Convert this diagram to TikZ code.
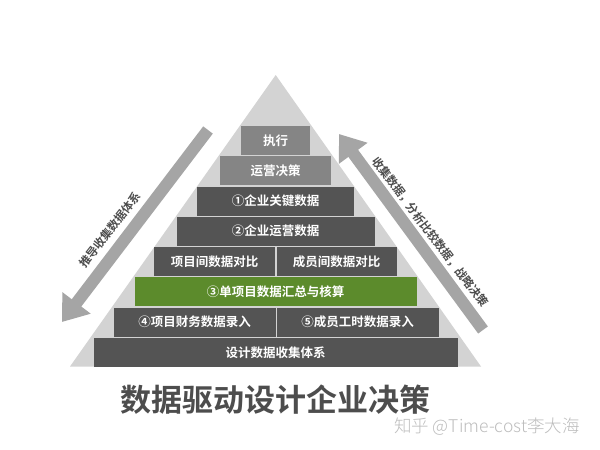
\documentclass[tikz,border=0pt]{standalone}
\usepackage{fontspec}
\setmainfont{Noto Sans CJK SC}
\newfontfamily\cjkb{Noto Sans CJK SC Bold}
\newfontfamily\cjkl{Noto Sans CJK SC Light}
\usetikzlibrary{arrows.meta}
\definecolor{tri}{HTML}{D3D3D3}
\definecolor{lightbox}{HTML}{858585}
\definecolor{darkbox}{HTML}{545454}
\definecolor{greenbox}{HTML}{5C8B2C}
\definecolor{arrowgray}{HTML}{A5A5A5}
\definecolor{titlegray}{HTML}{4D4D4D}
\definecolor{markgray}{HTML}{BDBDBD}
\tikzset{
  row/.style={draw=none, inner sep=0pt, minimum height=29pt, text=white,
    font=\cjkb\fontsize{12.5}{14}\selectfont},
  lightrow/.style={row, fill=lightbox},
  darkrow/.style={row, fill=darkbox},
  greenrow/.style={row, fill=greenbox},
  bigarrow/.style={draw=arrowgray, line width=12pt,
    -{Triangle[width=34pt,length=24pt]}},
  arrowtext/.style={text=titlegray, font=\cjkb\fontsize{11.5}{13}\selectfont, inner sep=0pt}
}
\begin{document}
\begin{tikzpicture}[x=1pt,y=-1pt]
\useasboundingbox[fill=white] (0,0) rectangle (600,450);
% background triangle
\fill[tri] (275.7,75) -- (481,366.5) -- (70,366.5) -- cycle;
% rows
\node[lightrow, minimum width=69pt] (r1) at (275.5,140.5) {执行};
\node[lightrow, minimum width=111pt] (r2) at (275.5,170.75) {运营决策};
\node[darkrow, minimum width=157pt] (r3) at (275.5,201) {①企业关键数据};
\node[darkrow, minimum width=198pt] (r4) at (275.5,231.25) {②企业运营数据};
\node[darkrow, minimum width=121pt] (r5a) at (214.5,261.5) {项目间数据对比};
\node[darkrow, minimum width=120pt] (r5b) at (336.5,261.5) {成员间数据对比};
\node[greenrow, minimum width=282pt] (r6) at (275.5,291.75) {③单项目数据汇总与核算};
\node[darkrow, minimum width=162pt] (r7a) at (194.5,322) {④项目财务数据录入};
\node[darkrow, minimum width=162pt] (r7b) at (357.5,322) {⑤成员工时数据录入};
\node[darkrow, minimum width=364pt] (r8) at (275.5,352.25) {设计数据收集体系};
% arrows
\coordinate (la) at (208,130);
\coordinate (lb) at (62,322);
\coordinate (ra) at (483,330);
\coordinate (rb) at (339,134);
\draw[bigarrow] (la) -- (lb);
\draw[bigarrow] (ra) -- (rb);
\node[arrowtext, rotate=52] (lt) at (110,230) {推导收集数据体系};
\node[arrowtext, rotate=-53] (rt) at (430,232) {收集数据，分析比较数据，战略决策};
% title
\node[text=titlegray, font=\cjkb\fontsize{31}{34}\selectfont, inner sep=0pt] (title) at (275,400) {数据驱动设计企业决策};
\node[text=markgray, font=\cjkl\fontsize{17.5}{19}\selectfont, inner sep=0pt] (mark) at (487,427) {知乎 @Time-cost李大海};
\end{tikzpicture}
\end{document}
